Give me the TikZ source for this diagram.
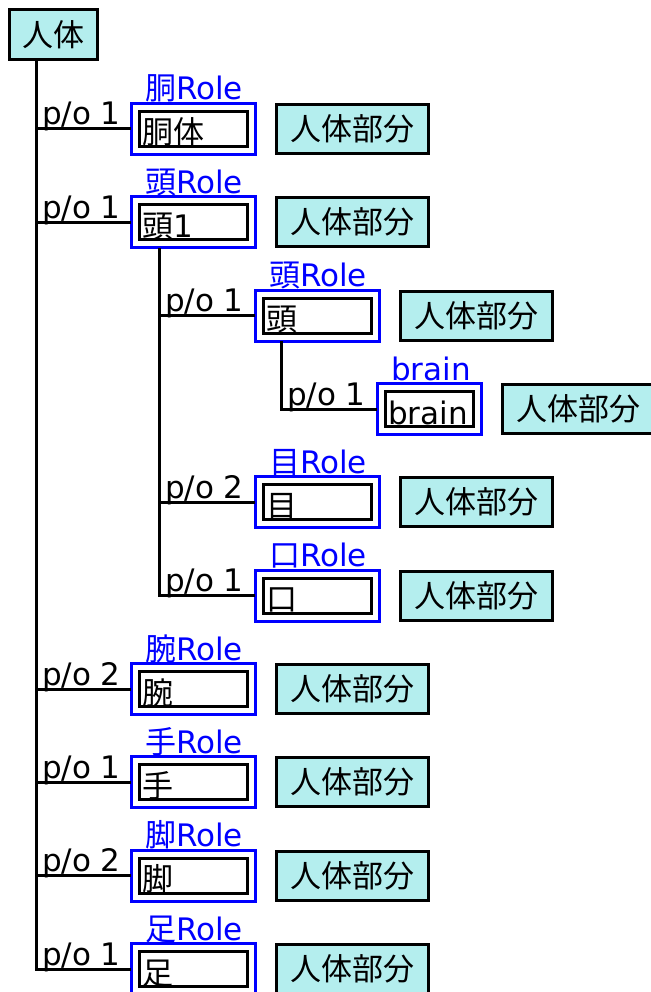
\documentclass[tikz,border=0pt]{standalone}
\usepackage{fontspec}
\setmainfont{DejaVu Sans}
\newfontfamily\jp{Noto Sans CJK JP}
\usetikzlibrary{positioning}
\definecolor{partcyan}{RGB}{180,238,238}
\definecolor{roleblue}{RGB}{0,0,255}
\tikzset{
 basefont/.style={font=\fontsize{31}{37}\selectfont, inner sep=0pt, outer sep=0pt},
 rolebox/.style={basefont, draw=roleblue, line width=3pt, minimum height=51pt},
 innerbox/.style={basefont, draw=black, line width=3pt, minimum height=35pt},
 innertext/.style={basefont, text=black},
 roletext/.style={basefont, text=roleblue},
 partbox/.style={basefont, draw=black, fill=partcyan, line width=3pt, minimum width=152pt, minimum height=49pt},
 potext/.style={basefont},
 conn/.style={line width=3pt, draw=black},
}
% #1 name, #2 trunk coordinate, #3 trunk x, #4 blue box left x, #5 row y,
% #6 blue box width, #7 role label, #8 inner text, #9 p/o number
\newcommand\myrow[9]{%
 \node[rolebox, minimum width=#6pt, anchor=west] (#1) at (#4,#5-1) {};
 \node[innerbox, minimum width={(#6-16)*1pt}] (#1i) at (#1.center) {};
 \node[innertext, anchor=base west] (#1t) at (#4+11,#5+14) {#8};
 \node[roletext, anchor=base west] (#1r) at (#4+14,#5-30) {#7};
 \node[partbox, right=21pt of #1] (#1p) {{\jp 人体部分}};
 \draw[conn] (#2) |- (#1.west);
 \node[potext, anchor=base west] (#1e) at (#3+6,#5-5) {p/o #9};
}
\begin{document}
\begin{tikzpicture}[x=1pt,y=-1pt]
\useasboundingbox (0,0) rectangle (650,992);
\node[partbox, minimum width=88pt, minimum height=50pt] (root) at (53,35) {{\jp 人体}};
\coordinate (t0) at ([xshift=-17pt]root.south);
\myrow{r1}{t0}{36}{131}{130}{124}{{\jp 胴}Role}{{\jp 胴体}}{1}
\myrow{r2}{t0}{36}{131}{223.3}{124}{{\jp 頭}Role}{{\jp 頭}1}{1}
\coordinate (t1) at ([xshift=28pt]r2.south west);
\myrow{r3}{t1}{159}{255}{316.7}{124}{{\jp 頭}Role}{{\jp 頭}}{1}
\coordinate (t2) at ([xshift=26pt]r3.south west);
\myrow{r4}{t2}{281}{377}{410}{104}{brain}{brain}{1}
\myrow{r5}{t1}{159}{255}{503.3}{124}{{\jp 目}Role}{{\jp 目}}{2}
\myrow{r6}{t1}{159}{255}{596.7}{124}{{\jp 口}Role}{{\jp 口}}{1}
\myrow{r7}{t0}{36}{131}{690}{124}{{\jp 腕}Role}{{\jp 腕}}{2}
\myrow{r8}{t0}{36}{131}{783.3}{124}{{\jp 手}Role}{{\jp 手}}{1}
\myrow{r9}{t0}{36}{131}{876.7}{124}{{\jp 脚}Role}{{\jp 脚}}{2}
\myrow{r10}{t0}{36}{131}{970}{124}{{\jp 足}Role}{{\jp 足}}{1}
\end{tikzpicture}
\end{document}
